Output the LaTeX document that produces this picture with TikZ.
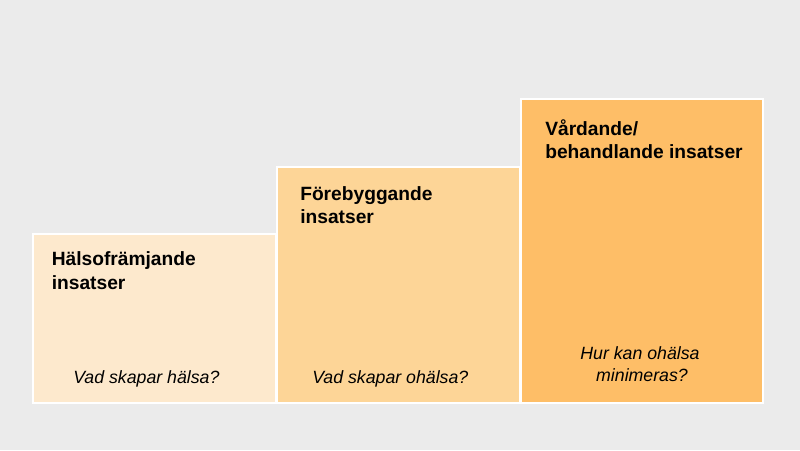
\documentclass[tikz,border=0pt]{standalone}
\usepackage{fontspec}
\setmainfont{Liberation Sans}
\definecolor{bg}{HTML}{EBEBEB}
\definecolor{cA}{HTML}{FDE9CD}
\definecolor{cB}{HTML}{FDD597}
\definecolor{cC}{HTML}{FEBE67}
\begin{document}
\begin{tikzpicture}[x=0.75pt,y=-0.75pt,
  stepbox/.style={draw=white,line width=1.5pt},
  title/.style={anchor=base west,inner sep=0pt,font=\fontsize{14.4pt}{17.6pt}\selectfont\bfseries,align=left},
  question/.style={anchor=base west,inner sep=0pt,font=\fontsize{13.3pt}{16.5pt}\selectfont\itshape},
  questionc/.style={anchor=base,inner sep=0pt,font=\fontsize{13.3pt}{16.5pt}\selectfont\itshape,align=center}]
\fill[bg] (0,0) rectangle (800,450);
\useasboundingbox (0,0) rectangle (800,450);
\filldraw[stepbox,fill=cA] (33,234) rectangle (276,403);
\filldraw[stepbox,fill=cB] (277,167) rectangle (520,403);
\filldraw[stepbox,fill=cC] (521,99) rectangle (763,403);
\node[title] (t1) at (51.5,265.7) {Hälsofrämjande};
\node[title] (t1b) at (51.5,289.3) {insatser};
\node[title] (t2) at (300,200) {Förebyggande};
\node[title] (t2b) at (300,223.5) {insatser};
\node[title] (t3) at (545,135) {Vårdande/};
\node[title] (t3b) at (545,158.5) {behandlande insatser};
\node[question] (q1) at (73,383) {Vad skapar hälsa?};
\node[question] (q2) at (312,383) {Vad skapar ohälsa?};
\node[questionc] (q3) at (640,359) {Hur kan ohälsa};
\node[questionc] (q3b) at (642,381) {minimeras?};
\end{tikzpicture}
\end{document}
